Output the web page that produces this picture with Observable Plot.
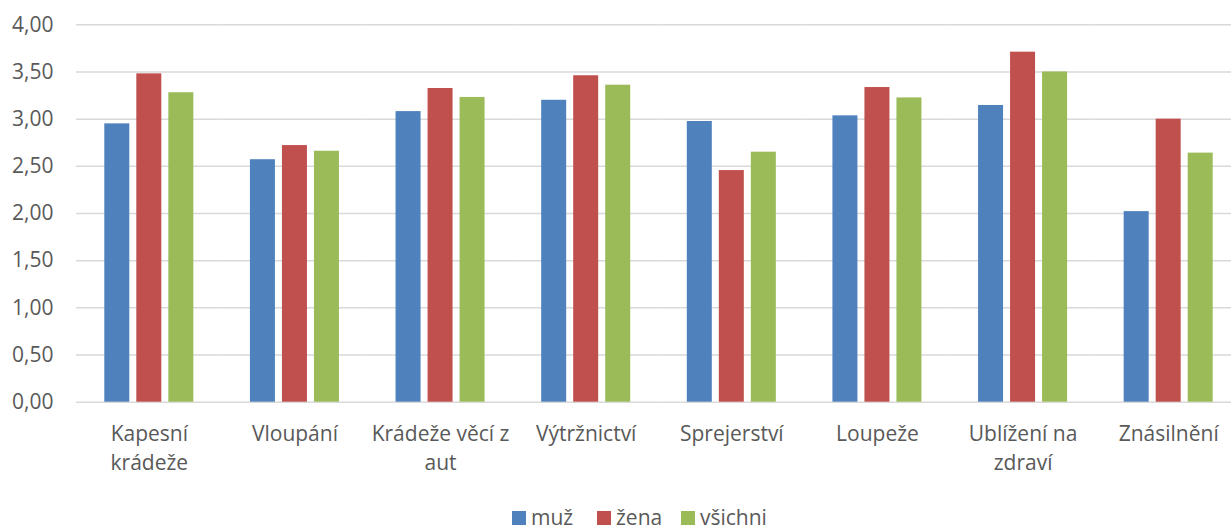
<!DOCTYPE html>
<html><head><meta charset="utf-8">
<script src="https://cdn.jsdelivr.net/npm/d3@7"></script>
<script src="https://cdn.jsdelivr.net/npm/@observablehq/plot@0.6"></script>
<style>
html,body{margin:0;padding:0;background:#fff;overflow:hidden;width:1231px;height:529px;}
#legend{position:relative;height:24px;font-family:"Open Sans",sans-serif;font-size:21px;line-height:21px;color:#595959;}
.item{position:absolute;top:0;display:flex;align-items:center;white-space:nowrap;height:21px;}
.sw{display:inline-block;width:14px;height:14px;margin-right:5px;}
</style></head><body><div id="chart"></div><div id="legend"></div>
<script>
const categories = ["Kapesní krádeže","Vloupání","Krádeže věcí z aut","Výtržnictví","Sprejerství","Loupeže","Ublížení na zdraví","Znásilnění"];
const tickLabels = ["Kapesní\nkrádeže","Vloupání","Krádeže věcí z\naut","Výtržnictví","Sprejerství","Loupeže","Ublížení na\nzdraví","Znásilnění"];
const seriesNames = ["muž","žena","všichni"];
const seriesColors = ["#4F81BD","#C0504D","#9BBB59"];
const muz = [2.95,2.57,3.08,3.20,2.975,3.035,3.145,2.02];
const zena = [3.48,2.72,3.325,3.46,2.455,3.335,3.71,3.00];
const vsichni = [3.28,2.66,3.23,3.36,2.65,3.225,3.50,2.64];
const yTicks = [0,0.5,1,1.5,2,2.5,3,3.5,4];

const seriesValues = [muz, zena, vsichni];
const rows = [];
categories.forEach((c, i) => {
  seriesNames.forEach((s, j) => rows.push({cat: c, series: s, value: seriesValues[j][i]}));
});

const chart = Plot.plot({
  width: 1241,
  height: 505,
  marginLeft: 76,
  marginRight: 0,
  marginTop: 24.3,
  marginBottom: 103.3,
  style: {fontFamily: "'Open Sans', sans-serif", fontSize: "21px", color: "#595959", background: "#fff", maxWidth: "none", overflow: "visible"},
  fx: {domain: categories, padding: 0, round: false, axis: null, label: null},
  x: {domain: seriesNames, paddingInner: 0.219, paddingOuter: 0.884, round: false, axis: null, label: null},
  y: {domain: [0, 4], ticks: yTicks, tickFormat: d => d.toFixed(2).replace(".", ","), tickSize: 0, tickPadding: 23, label: null},
  color: {domain: seriesNames, range: seriesColors},
  marks: [
    Plot.ruleY(yTicks, {stroke: "#d9d9d9", strokeWidth: 1.5}),
    Plot.barY(rows, {fx: "cat", x: "series", y: "value", fill: "series"}),
    Plot.text(categories, {fx: d => d, text: (d, i) => tickLabels[i], frameAnchor: "bottom", lineAnchor: "top", dy: 18.5, lineHeight: 1.367, fontSize: 21, fill: "#595959"})
  ]
});
document.getElementById("chart").appendChild(chart);

const legend = document.getElementById("legend");
const lefts = [512, 597, 681];
seriesNames.forEach((s, j) => {
  const it = document.createElement("div");
  it.className = "item";
  it.style.left = lefts[j] + "px";
  it.style.top = "2px";
  const sw = document.createElement("span");
  sw.className = "sw";
  sw.style.background = seriesColors[j];
  it.appendChild(sw);
  it.appendChild(document.createTextNode(s));
  legend.appendChild(it);
});
</script></body></html>
